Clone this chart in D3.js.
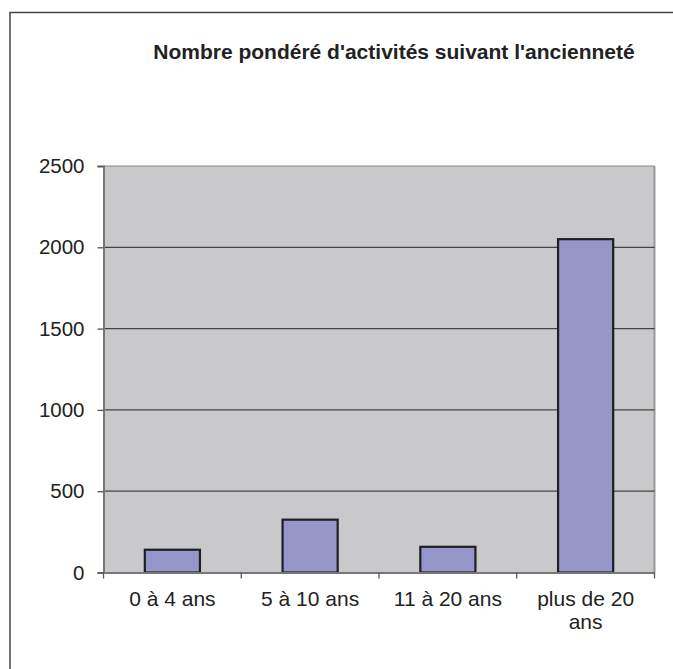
<!DOCTYPE html>
<html><head><meta charset="utf-8">
<script src="https://cdn.jsdelivr.net/npm/d3@7"></script>
<style>body{margin:0;background:#fff}svg{display:block}text{font-family:"Liberation Sans",Arial,sans-serif;fill:#222}</style>
</head><body>
<script>
const categories = ["0 à 4 ans", "5 à 10 ans", "11 à 20 ans", "plus de 20 ans"];
const labelLines = [["0 à 4 ans"], ["5 à 10 ans"], ["11 à 20 ans"], ["plus de 20", "ans"]];
const values = [140, 325, 158, 2050];
const yTicks = [0, 500, 1000, 1500, 2000, 2500];
const title = "Nombre pondéré d'activités suivant l'ancienneté";

const W = 673, H = 669;
const m = {left: 103.5, top: 166, right: 654.5, bottom: 572.5};
const svg = d3.select("body").append("svg").attr("width", W).attr("height", H);

// outer border
svg.append("path").attr("d", `M10,${H+5} L10,12.5 L${W+5},12.5`).attr("fill","none").attr("stroke","#444").attr("stroke-width",1.5);

const x = d3.scaleBand().domain(categories).range([m.left, m.right]).paddingInner(0.6).paddingOuter(0.3);
const y = d3.scaleLinear().domain([0, 2500]).range([m.bottom, m.top]);

// plot area
svg.append("rect").attr("x", m.left).attr("y", m.top).attr("width", m.right - m.left).attr("height", m.bottom - m.top).attr("fill", "#c9c9cb");
svg.append("line").attr("x1", m.right).attr("x2", m.right).attr("y1", m.top).attr("y2", m.bottom).attr("stroke", "#999").attr("stroke-width", 2);

// gridlines
svg.append("g").selectAll("line").data(yTicks.filter(d => d > 0)).join("line")
  .attr("x1", m.left).attr("x2", m.right).attr("y1", d => y(d)).attr("y2", d => y(d))
  .attr("stroke", d => d === 2500 ? "#888" : "#444").attr("stroke-width", 1.2);

// bars
svg.append("g").selectAll("rect").data(values).join("rect")
  .attr("x", (d, i) => x(categories[i])).attr("width", x.bandwidth())
  .attr("y", d => y(d)).attr("height", d => y(0) - y(d))
  .attr("fill", "#9696c8").attr("stroke", "#1e1e24").attr("stroke-width", 2.2);

// y axis
const yAxis = d3.axisLeft(y).tickValues(yTicks).tickSize(6).tickPadding(13).tickFormat(d3.format("d"));
const ga = svg.append("g").attr("transform", `translate(${m.left},0)`).call(yAxis);
ga.select(".domain").attr("stroke", "#777").attr("stroke-width", 2);
ga.selectAll(".tick line").attr("stroke", "#555").attr("stroke-width", 1.3);
ga.selectAll("text").style("font-size", "20.5px").attr("fill", "#222");

// x axis
const xb = d3.scaleLinear().domain([0, categories.length]).range([m.left, m.right]);
const xAxis = d3.axisBottom(x).tickSize(0).tickFormat("");
const gx = svg.append("g").attr("transform", `translate(0,${m.bottom})`).call(xAxis);
gx.select(".domain").attr("stroke", "#777").attr("stroke-width", 2);
svg.append("g").selectAll("line").data(d3.range(categories.length + 1)).join("line")
  .attr("x1", d => xb(d)).attr("x2", d => xb(d)).attr("y1", m.bottom).attr("y2", m.bottom + 6)
  .attr("stroke", "#555").attr("stroke-width", 1.3);

const lab = svg.append("g").selectAll("text").data(categories).join("text")
  .attr("x", d => x(d) + x.bandwidth() / 2).attr("y", m.bottom + 33)
  .attr("text-anchor", "middle").style("font-size", "21px");
lab.each(function(d, i) {
  d3.select(this).selectAll("tspan").data(labelLines[i]).join("tspan")
    .attr("x", x(d) + x.bandwidth() / 2).attr("dy", (t, j) => j === 0 ? 0 : 23).text(t => t);
});

// title
svg.append("text").attr("x", 394).attr("y", 59).attr("text-anchor", "middle")
  .style("font-size", "21px").style("font-weight", "bold").attr("fill", "#1a1a1a").text(title);
</script>
</body></html>
